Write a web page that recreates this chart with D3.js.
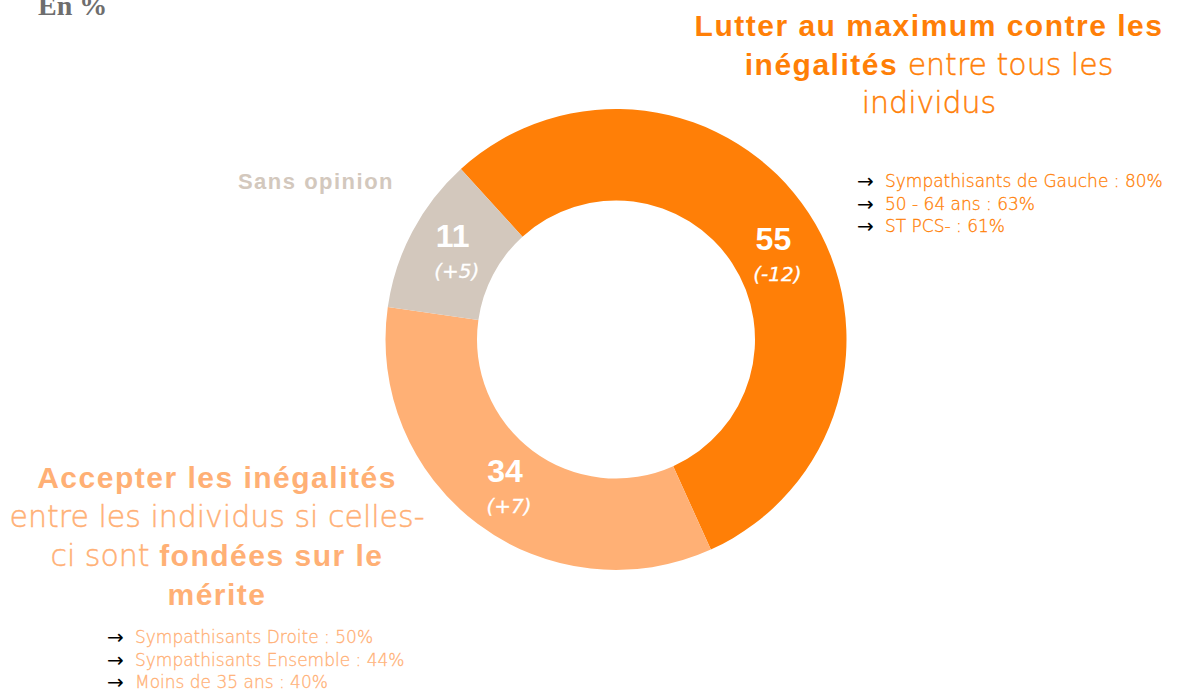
<!DOCTYPE html>
<html>
<head>
<meta charset="utf-8">
<script src="https://cdn.jsdelivr.net/npm/d3@7"></script>
<style>
  html, body { margin: 0; padding: 0; background: #fff; }
  svg { display: block; }
</style>
</head>
<body>
<svg id="chart" width="1183" height="693"></svg>
<script>
// ---- Data ----
const categories = ["Lutter au maximum contre les inégalités", "Accepter les inégalités si fondées sur le mérite", "Sans opinion"];
const values = [55, 34, 11];
const deltas = ["(-12)", "(+7)", "(+5)"];
const rightDetails = ["Sympathisants de Gauche : 80%", "50 - 64 ans : 63%", "ST PCS- : 61%"];
const leftDetails = ["Sympathisants Droite : 50%", "Sympathisants Ensemble : 44%", "Moins de 35 ans : 40%"];

// ---- Style / layout ----
const colors = ["#FF7F07", "#FFB075", "#D3C8BD"];
const labelNudge = [[3, 18], [0, 1], [0, 0]];

const svg = d3.select("#chart");
const cx = 616, cy = 339.5, rOuter = 230.5, rInner = 139;
const startA = -42.3 * Math.PI / 180;

const pie = d3.pie().sort(null).value(d => d)
  .startAngle(startA).endAngle(startA + 2 * Math.PI);
const arcs = pie(values);
const arc = d3.arc().innerRadius(rInner).outerRadius(rOuter);
const labelArc = d3.arc().innerRadius((rInner + rOuter) / 2).outerRadius((rInner + rOuter) / 2);

const g = svg.append("g").attr("transform", `translate(${cx},${cy})`);
g.selectAll("path.slice").data(arcs).enter().append("path")
  .attr("class", "slice")
  .attr("d", arc)
  .attr("fill", (d, i) => colors[i]);

const lab = g.selectAll("g.lab").data(arcs).enter().append("g")
  .attr("class", "lab")
  .attr("transform", (d, i) => { const c = labelArc.centroid(d); return `translate(${c[0] + labelNudge[i][0]},${c[1] + labelNudge[i][1]})`; });
lab.append("text")
  .attr("text-anchor", "middle").attr("y", -6)
  .attr("font-family", "Liberation Sans, Arial, sans-serif")
  .attr("font-weight", "bold").attr("font-size", 32)
  .attr("fill", "#fff")
  .text(d => d.data);
lab.append("text")
  .attr("text-anchor", "middle").attr("x", 4).attr("y", 25)
  .attr("font-family", "DejaVu Sans, sans-serif")
  .attr("font-weight", 200)
  .attr("font-style", "italic").attr("font-size", 20)
  .attr("fill", "#fff").attr("stroke", "#fff").attr("stroke-width", 0.3)
  .text((d, i) => deltas[i]);

// "En %"
svg.append("text").attr("x", 38).attr("y", 15)
  .attr("font-family", "Liberation Serif, serif").attr("font-weight", "bold")
  .attr("font-size", 28).attr("fill", "#6e6e6e").text("En %");

const boldF = "Liberation Sans, Arial, sans-serif";
const lightF = "DejaVu Sans, sans-serif";

function titleLine(x, y, parts, color, size) {
  const t = svg.append("text").attr("x", x).attr("y", y)
    .attr("text-anchor", "middle").attr("font-size", size).attr("fill", color);
  parts.forEach(p => {
    const s = t.append("tspan");
    if (p[1]) s.attr("font-family", boldF).attr("font-weight", "bold").attr("letter-spacing", 1.5);
    else s.attr("font-family", lightF).attr("font-weight", 200).attr("stroke", color).attr("stroke-width", 0.45);
    s.text(p[0]);
  });
}

// Right title
titleLine(929, 36, [["Lutter au maximum contre les", true]], colors[0], 30);
titleLine(929, 75, [["inégalités", true], [" entre tous les", false]], colors[0], 30);
titleLine(929, 113, [["individus", false]], colors[0], 30);

// Left title
titleLine(217, 488, [["Accepter les inégalités", true]], colors[1], 30);
titleLine(217, 527, [["entre les individus si celles-", false]], colors[1], 30);
titleLine(217, 566, [["ci sont ", false], ["fondées sur le", true]], colors[1], 30);
titleLine(217, 605, [["mérite", true]], colors[1], 30);

// Sans opinion
svg.append("text").attr("x", 316).attr("y", 189).attr("text-anchor", "middle")
  .attr("font-family", boldF).attr("font-weight", "bold").attr("font-size", 22)
  .attr("letter-spacing", 1.5)
  .attr("fill", colors[2]).text("Sans opinion");

function details(x, y, items, color) {
  items.forEach((s, i) => {
    svg.append("text").attr("x", x - 1).attr("y", y + 1 + i * 22.5)
      .attr("font-family", "DejaVu Sans, sans-serif").attr("font-size", 20).attr("fill", "#000")
      .text("→");
    svg.append("text").attr("x", x + 27).attr("y", y + i * 22.5)
      .attr("font-family", lightF).attr("font-weight", 200).attr("font-size", 17).attr("fill", color)
      .attr("stroke", color).attr("stroke-width", 0.3)
      .text(s);
  });
}
details(858, 187, rightDetails, colors[0]);
details(108, 643, leftDetails, colors[1]);
</script>
</body>
</html>
